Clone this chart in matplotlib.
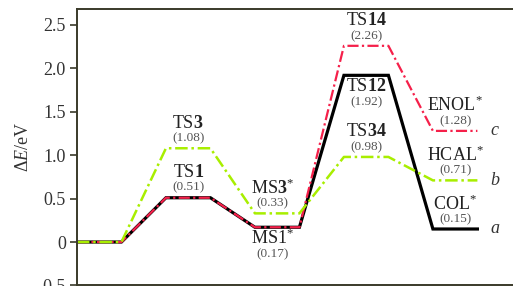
import matplotlib.pyplot as plt

plt.rcParams['font.family'] = ['Liberation Serif', 'DejaVu Serif']
plt.rcParams['mathtext.fontset'] = 'custom'
plt.rcParams['mathtext.rm'] = 'Liberation Serif'
plt.rcParams['mathtext.it'] = 'Liberation Serif:italic'
plt.rcParams['mathtext.bf'] = 'Liberation Serif:bold'

# energy levels of the three paths (eV)
energy_a = [0, 0.51, 0.17, 1.92, 0.15]
energy_b = [0, 1.08, 0.33, 0.98, 0.71]
energy_c = [0, 0.51, 0.17, 2.26, 1.28]
path_names = ["a", "b", "c"]

# state labels: (stage, name, value, above/below)
states = [
    (1, r"TS$\mathbf{1}$", 0.51, 1),
    (1, r"TS$\mathbf{3}$", 1.08, 1),
    (2, r"MS$\mathbf{3}^{*}$", 0.33, 1),
    (2, r"MS1$^{*}$", 0.17, -1),
    (3, r"TS$\mathbf{14}$", 2.26, 1),
    (3, r"TS$\mathbf{12}$", 1.92, -1),
    (3, r"TS$\mathbf{34}$", 0.98, 1),
    (4, r"ENOL$^{*}$", 1.28, 1),
    (4, r"HCAL$^{*}$", 0.71, 1),
    (4, r"COL$^{*}$", 0.15, 1),
]
yticks = [-0.5, 0, 0.5, 1.0, 1.5, 2.0, 2.5]
yticklabels = ["\u22120.5", "0", "0.5", "1.0", "1.5", "2.0", "2.5"]


def path(levels):
    xs, ys = [], []
    for i, e in enumerate(levels):
        xs += [2 * i, 2 * i + 1]
        ys += [e, e]
    return xs, ys


fig = plt.figure(figsize=(5.13, 2.86), dpi=100)
ax = fig.add_axes([0.150, 0.002, 0.85, 0.9665])

xa, ya = path(energy_a)
xb, yb = path(energy_b)
xc, yc = path(energy_c)
ax.plot(xa, ya, color="black", lw=2.3, solid_joinstyle="miter")
ax.plot(xc, yc, color="#f5204a", lw=1.6, linestyle=(0, (5, 1.5, 1, 1.5)))
ax.plot(xb, yb, color="#a8ee00", lw=1.8, linestyle=(0, (5, 1.5, 1, 1.5)))

for lev, name in zip([energy_a[-1], energy_b[-1], energy_c[-1]], path_names):
    ax.text(9.39, lev, name, style="italic", fontsize=13, color="#333333",
            ha="center", va="center")

for stage, name, val, side in states:
    xc_ = 2 * stage + 0.5
    if stage == 2:
        xc_ = 4.4
    if side > 0:
        y_name, y_val = val + 0.29, val + 0.115
    else:
        y_name, y_val = val - 0.13, val - 0.31
    ax.text(xc_, y_name, name, fontsize=13, color="#222222",
            ha="center", va="center")
    ax.text(xc_, y_val, "(%.2f)" % val, fontsize=9.5, color="#555555",
            ha="center", va="center")

ax.set_xlim(0, 9.8)
ax.set_ylim(-0.5, 2.684)
ax.set_xticks([])
ax.set_yticks(yticks)
ax.set_yticklabels(yticklabels, fontsize=13, color="#333333")
ax.tick_params(axis="y", direction="out", length=5, width=1.2, color="#3a3a2a", pad=3)
ax.spines["right"].set_visible(False)
for s in ["left", "top", "bottom"]:
    ax.spines[s].set_color("#3a3a2a")
    ax.spines[s].set_linewidth(1.4)

fig.text(0.045, 1 - 147 / 286, r"$\Delta$$\it{E}$/eV", rotation=90, fontsize=13,
         color="#333333", ha="center", va="center")

fig.savefig("out.png", dpi=100)
